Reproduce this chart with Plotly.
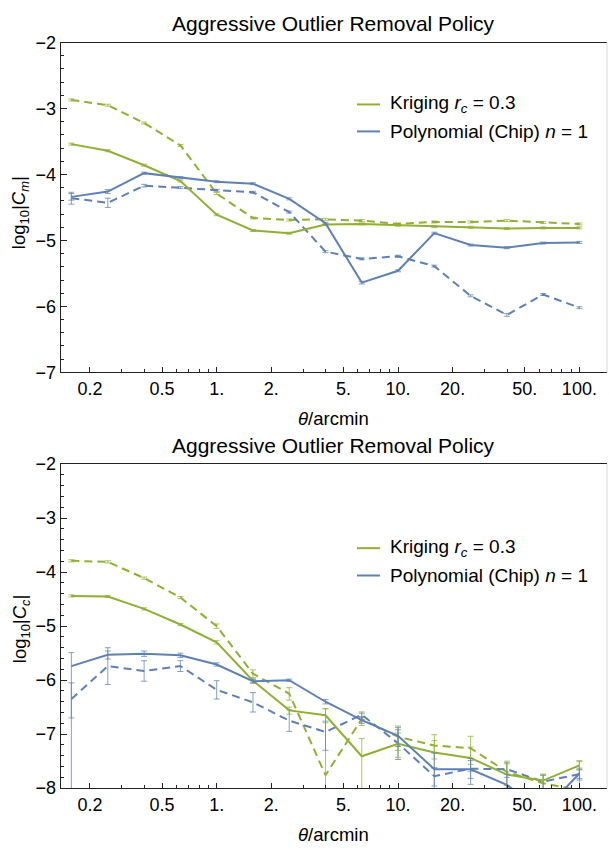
import plotly.graph_objects as go
import numpy as np

# ---------------- data ----------------
theta = [0.158, 0.251, 0.398, 0.631, 1.0, 1.585, 2.512, 3.981, 6.31, 10.0,
         15.85, 25.12, 39.81, 63.1, 100.0]

# top panel: log10|C_m|
cm_krig = [-3.54, -3.64, -3.86, -4.10, -4.61, -4.85, -4.89, -4.76, -4.75, -4.77,
           -4.79, -4.80, -4.82, -4.81, -4.81]
cm_krig_d = [-2.87, -2.95, -3.22, -3.56, -4.29, -4.66, -4.69, -4.68, -4.70, -4.75,
             -4.72, -4.72, -4.70, -4.73, -4.75]
cm_poly = [-4.34, -4.26, -3.98, -4.05, -4.11, -4.14, -4.37, -4.74, -5.64, -5.46,
           -4.89, -5.07, -5.11, -5.04, -5.03]
cm_poly_d = [-4.36, -4.43, -4.17, -4.20, -4.24, -4.27, -4.57, -5.17, -5.28, -5.24,
             -5.39, -5.84, -6.13, -5.82, -6.02]
cm_krig_err = [0.015] * 15
cm_krig_d_err = [0.015] * 15
cm_poly_err = [0.05, 0.03, 0.015, 0.015, 0.015, 0.015, 0.015, 0.015, 0.02, 0.015,
               0.015, 0.015, 0.015, 0.015, 0.015]
cm_poly_d_err = [0.09, 0.07, 0.02, 0.015, 0.015, 0.015, 0.015, 0.015, 0.015, 0.015,
                 0.015, 0.015, 0.02, 0.015, 0.015]

# bottom panel: log10|C_c|
cc_krig = [-4.44, -4.45, -4.68, -4.97, -5.30, -6.01, -6.56, -6.65, -7.41, -7.18,
           -7.34, -7.44, -7.75, -7.86, -7.58]
cc_krig_up = [0.02, 0.02, 0.02, 0.02, 0.03, 0.05, 0.06, 0.12, 0.33, 0.20,
              0.22, 0.20, 0.20, 0.12, 0.07]
cc_krig_dn = [0.02, 0.02, 0.02, 0.02, 0.03, 0.05, 0.07, 0.14, 3.0, 0.25,
              0.28, 0.25, 0.25, 0.15, 0.08]
cc_krig_d = [-3.79, -3.81, -4.11, -4.47, -5.00, -5.88, -6.25, -7.76, -6.72, -7.05,
             -7.21, -7.26, -7.70, -7.91, -8.04]
cc_krig_d_up = [0.02, 0.02, 0.02, 0.02, 0.04, 0.07, 0.11, 1.23, 0.10, 0.20,
                0.20, 0.22, 0.20, 0.15, 0.55]
cc_krig_d_dn = [0.02, 0.02, 0.02, 0.02, 0.04, 0.08, 0.12, 3.0, 0.12, 0.25,
                0.25, 0.30, 0.25, 0.18, 3.0]
cc_poly = [-5.74, -5.53, -5.51, -5.54, -5.71, -6.02, -6.00, -6.40, -6.74, -7.03,
           -7.65, -7.65, -7.94, -8.43, -7.73]
cc_poly_up = [0.25, 0.07, 0.05, 0.04, 0.03, 0.03, 0.02, 0.04, 0.06, 0.15,
              0.30, 0.20, 0.20, 0.30, 0.10]
cc_poly_dn = [3.0, 0.08, 0.05, 0.04, 0.03, 0.03, 0.02, 0.04, 0.06, 0.20,
              3.0, 0.28, 0.30, 3.0, 0.12]
cc_poly_d = [-6.35, -5.74, -5.83, -5.74, -6.18, -6.41, -6.75, -6.96, -6.64, -7.17,
             -7.78, -7.64, -7.65, -7.88, -7.74]
cc_poly_d_up = [0.30, 0.34, 0.19, 0.10, 0.17, 0.18, 0.20, 0.20, 0.05, 0.25,
                0.15, 0.15, 0.12, 0.12, 0.08]
cc_poly_d_dn = [0.35, 0.34, 0.19, 0.10, 0.17, 0.18, 0.20, 0.34, 0.05, 0.30,
                0.18, 0.18, 0.15, 0.20, 0.08]

x_major = [0.2, 0.5, 1, 2, 5, 10, 20, 50, 100]
x_major_text = ["0.2", "0.5", "1.", "2.", "5.", "10.", "20.", "50.", "100."]
x_minor = [0.3, 0.4, 0.6, 0.7, 0.8, 0.9, 3, 4, 6, 7, 8, 9, 30, 40, 60, 70, 80, 90]

title_text = "Aggressive Outlier Removal Policy"
legend_labels = ["Kriging <i>r</i><sub><i>c</i></sub> = 0.3",
                 "Polynomial (Chip) <i>n</i> = 1"]

# ---------------- style ----------------
GREEN = "#8FB032"
BLUE = "#5E81B5"
GREEN_E = "rgba(143,176,50,0.75)"
BLUE_E = "rgba(94,129,181,0.75)"
FONT = "Liberation Sans, Arial, sans-serif"
W, H = 609, 858
DASH = "8px,5px"

fig = go.Figure()


def add(y, up, dn, color, ecolor, dash, xa, ya):
    fig.add_trace(go.Scatter(
        x=theta, y=y, mode="lines", xaxis=xa, yaxis=ya,
        line=dict(color=color, width=2, dash=dash),
        error_y=dict(type="data", symmetric=False, array=up, arrayminus=dn,
                     color=ecolor, thickness=1, width=3),
        showlegend=False, hoverinfo="skip"))


add(cm_krig_d, cm_krig_d_err, cm_krig_d_err, GREEN, GREEN_E, DASH, "x", "y")
add(cm_poly_d, cm_poly_d_err, cm_poly_d_err, BLUE, BLUE_E, DASH, "x", "y")
add(cm_krig, cm_krig_err, cm_krig_err, GREEN, GREEN_E, "solid", "x", "y")
add(cm_poly, cm_poly_err, cm_poly_err, BLUE, BLUE_E, "solid", "x", "y")

add(cc_krig_d, cc_krig_d_up, cc_krig_d_dn, GREEN, GREEN_E, DASH, "x2", "y2")
add(cc_poly_d, cc_poly_d_up, cc_poly_d_dn, BLUE, BLUE_E, DASH, "x2", "y2")
add(cc_krig, cc_krig_up, cc_krig_dn, GREEN, GREEN_E, "solid", "x2", "y2")
add(cc_poly, cc_poly_up, cc_poly_dn, BLUE, BLUE_E, "solid", "x2", "y2")

xdom = [60.7 / W, 607 / W]
top_px = (33.3, 371.0)
bot_px = (465.0, 796.7)


def ydom(p):
    return [1 - p[1] / H, 1 - p[0] / H]


xr = [np.log10(0.138), np.log10(142)]
AX = "#222222"


def xaxis(anchor):
    return dict(type="log", range=xr, domain=xdom, anchor=anchor,
                showline=True, linecolor=AX, linewidth=1, mirror=True,
                ticks="inside", ticklen=5, tickcolor=AX, tickwidth=1,
                tickmode="array", tickvals=x_major, ticktext=x_major_text,
                tickfont=dict(family=FONT, size=18, color="black"),
                minor=dict(tickmode="array", tickvals=x_minor, ticks="inside",
                           ticklen=3, tickcolor=AX, tickwidth=1),
                showgrid=False, zeroline=False, fixedrange=True)


def yaxis(anchor, lo, dom):
    vals = list(range(lo, -1))
    return dict(range=[lo, -2], domain=dom, anchor=anchor,
                showline=True, linecolor=AX, linewidth=1, mirror=False,
                ticks="inside", ticklen=6, tickcolor=AX, tickwidth=1,
                tickmode="array", tickvals=vals,
                ticktext=["\u2212%d" % (-v) for v in vals],
                tickfont=dict(family=FONT, size=18, color="black"),
                minor=dict(dtick=0.2, tick0=0, ticks="inside", ticklen=3,
                           tickcolor=AX, tickwidth=1),
                showgrid=False, zeroline=False, fixedrange=True)


fig.update_layout(
    width=W, height=H, margin=dict(l=0, r=0, t=0, b=0),
    paper_bgcolor="white", plot_bgcolor="white",
    xaxis=xaxis("y"), yaxis=yaxis("x", -7, ydom(top_px)),
    xaxis2=xaxis("y2"), yaxis2=yaxis("x2", -8, ydom(bot_px)),
    showlegend=False,
)

# right frame lines (light)
for xa, ya in (("x", "y"), ("x2", "y2")):
    fig.add_shape(type="line", xref=xa + " domain", yref=ya + " domain",
                  x0=1, x1=1, y0=0, y1=1, line=dict(color="#d8d8d8", width=1))

cx = (xdom[0] + xdom[1]) / 2
ann = []
# titles
for ty in (13.6, 446.0):
    ann.append(dict(text=title_text, x=cx, y=1 - ty / H, xref="paper", yref="paper",
                    xanchor="center", yanchor="middle", showarrow=False,
                    font=dict(family=FONT, size=21, color="black")))
# x titles
for ty in (418.0, 844.0):
    ann.append(dict(text="<i>θ</i>/arcmin", x=cx, y=1 - ty / H, xref="paper", yref="paper",
                    xanchor="center", yanchor="middle", showarrow=False,
                    font=dict(family=FONT, size=18.5, color="black")))
# y titles
ann.append(dict(text="log<sub>10</sub>|<i>C</i><sub><i>m</i></sub>|", x=20 / W, y=1 - 208 / H,
                xref="paper", yref="paper", xanchor="center", yanchor="middle",
                showarrow=False, textangle=-90,
                font=dict(family=FONT, size=18.5, color="black")))
ann.append(dict(text="log<sub>10</sub>|<i>C</i><sub><i>c</i></sub>|", x=21 / W, y=1 - 634 / H,
                xref="paper", yref="paper", xanchor="center", yanchor="middle",
                showarrow=False, textangle=-90,
                font=dict(family=FONT, size=18.5, color="black")))

# legends
for rows in ((96.7, 124.3), (551.0, 579.0)):
    for ry, col, lab in zip(rows, (GREEN, BLUE), legend_labels):
        fig.add_shape(type="line", xref="paper", yref="paper",
                      x0=357 / W, x1=380 / W, y0=1 - ry / H, y1=1 - ry / H,
                      line=dict(color=col, width=2))
        ann.append(dict(text=lab, x=388 / W, y=1 - ry / H, xref="paper", yref="paper",
                        xanchor="left", yanchor="middle", showarrow=False,
                        font=dict(family=FONT, size=19, color="black")))

fig.update_layout(annotations=ann)
fig.write_html("out.html", config={"displayModeBar": False})
